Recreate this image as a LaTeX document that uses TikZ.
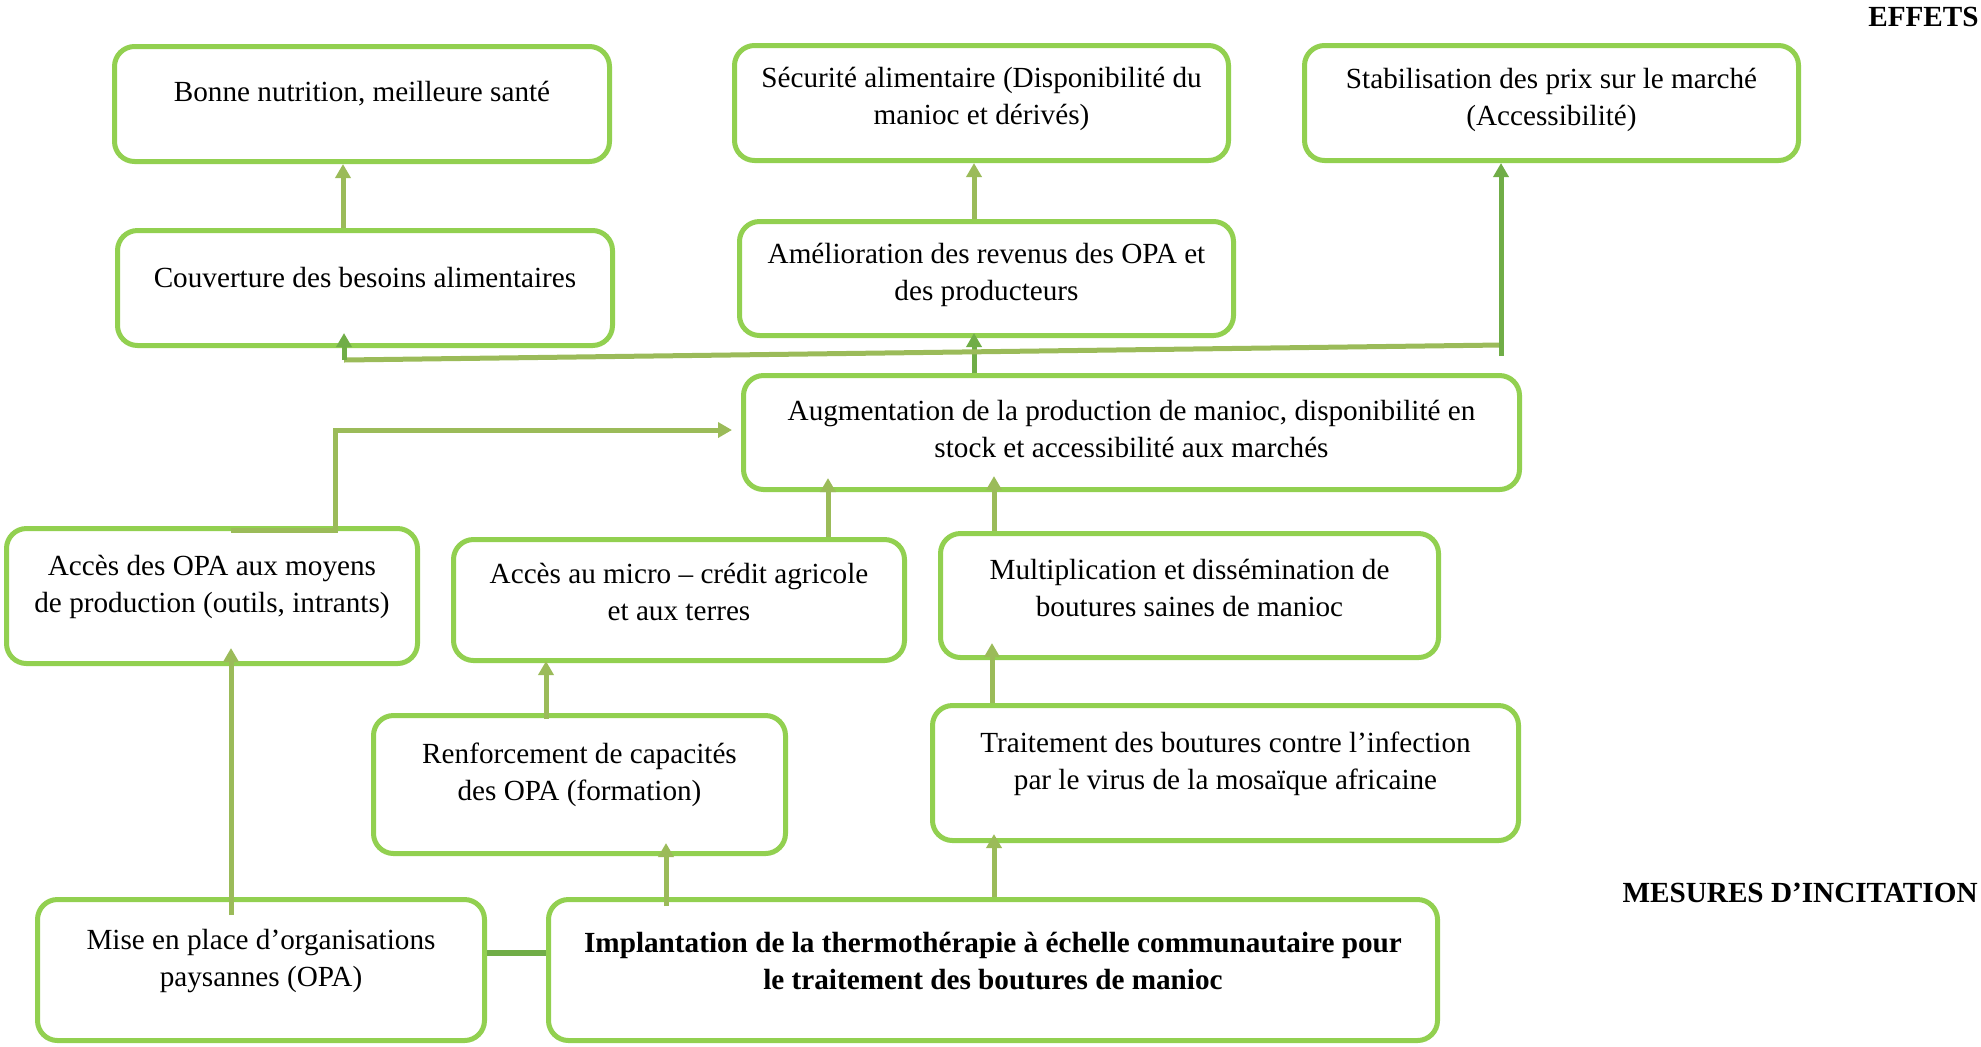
\documentclass[tikz,border=0pt]{standalone}
\usepackage{fontspec}
\setmainfont{Liberation Serif}
\usetikzlibrary{arrows.meta}
\definecolor{boxgreen}{HTML}{92D050}
\definecolor{olivegreen}{HTML}{9BBB59}
\definecolor{deepgreen}{HTML}{70AD47}

\begin{document}
\begin{tikzpicture}[x=0.5pt,y=-0.5pt,
  box/.style={draw=boxgreen, line width=2.5pt, rounded corners=10pt, fill=white, inner sep=0pt},
  lbl/.style={align=center, font=\fontsize{14.6pt}{18.5pt}\selectfont, inner sep=0pt},
  head/.style={font=\fontsize{14.6pt}{18.5pt}\selectfont\bfseries, inner sep=0pt},
  link/.style={draw=olivegreen, line width=2.5pt},
  arr/.style={link, -{Triangle[width=7.5pt,length=7pt]}},
]
\useasboundingbox (0,0) rectangle (1981,1046);

% ---------- boxes ----------
\node[box, minimum width=247.5pt, minimum height=57.5pt] (bonne)  at (362,104)      {};
\node[box, minimum width=247pt,   minimum height=57.5pt] (secu)   at (981.5,103)    {};
\node[box, minimum width=247pt,   minimum height=57.5pt] (stab)   at (1551.5,103)   {};
\node[box, minimum width=247.5pt, minimum height=57.5pt] (couv)   at (365,288)      {};
\node[box, minimum width=247pt,   minimum height=57pt]   (amel)   at (986.5,278.5)  {};
\node[box, minimum width=388pt,   minimum height=57pt]   (augm)   at (1131.5,432.5) {};
\node[box, minimum width=205.5pt, minimum height=67.5pt] (accopa) at (212,596)      {};
\node[box, minimum width=225.5pt, minimum height=60.5pt] (micro)  at (679,600)      {};
\node[box, minimum width=249pt,   minimum height=62pt]   (mult)   at (1189.5,595.5) {};
\node[box, minimum width=206pt,   minimum height=69pt]   (renf)   at (579.5,784.5)  {};
\node[box, minimum width=293pt,   minimum height=67.5pt] (trait)  at (1225.5,773)   {};
\node[box, minimum width=223.5pt, minimum height=70.5pt] (mise)   at (261,970)      {};
\node[box, minimum width=444.5pt, minimum height=70.5pt] (impl)   at (993,970)      {};

% ---------- texts ----------
\node[lbl] (tbonne)  at (362,94)      {Bonne nutrition, meilleure santé};
\node[lbl] (tsecu)   at (981.5,98.5)  {Sécurité alimentaire (Disponibilité du\\manioc et dérivés)};
\node[lbl] (tstab)   at (1551.5,100)  {Stabilisation des prix sur le marché\\(Accessibilité)};
\node[lbl] (tcouv)   at (365,277)     {Couverture des besoins alimentaires};
\node[lbl] (tamel)   at (986.5,275)   {Amélioration des revenus des OPA et\\des producteurs};
\node[lbl] (taugm)   at (1131.5,428.5){Augmentation de la production de manioc, disponibilité en\\stock et accessibilité aux marchés};
\node[lbl] (taccopa) at (212,586.5)   {Accès des OPA aux moyens\\de production (outils, intrants)};
\node[lbl] (tmicro)  at (679,592)     {Accès au micro – crédit agricole\\et aux terres};
\node[lbl] (tmult)   at (1189.5,587.5){Multiplication et dissémination de\\boutures saines de manioc};
\node[lbl] (trenf)   at (579.5,775)   {Renforcement de capacités\\des OPA (formation)};
\node[lbl] (ttrait)  at (1225.5,764)  {Traitement des boutures contre l’infection\\par le virus de la mosaïque africaine};
\node[lbl] (tmise)   at (261,961.5)   {Mise en place d’organisations\\paysannes (OPA)};
\node[lbl, font=\fontsize{14.6pt}{18.5pt}\selectfont\bfseries] (timpl) at (993,961.5)
  {Implantation de la thermothérapie à échelle communautaire pour\\le traitement des boutures de manioc};

\node[head, anchor=east] (effets)  at (1979,17)  {EFFETS};
\node[head, anchor=east] (mesures) at (1978,893) {MESURES D’INCITATION};

% ---------- connectors ----------
\coordinate (xa) at (343,0);
\coordinate (xb) at (974,0);
\draw[arr] (xa |- couv.north) -- (xa |- bonne.south);
\draw[arr] (xb |- amel.north) -- (xb |- secu.south);
\draw[arr, draw=deepgreen, shorten >=-2.5pt] (xb |- augm.north) -- (xb |- amel.south);

% slanted distribution line
\coordinate (jr) at (1501,345);
\coordinate (jl) at (344,360);
\coordinate (sb) at (1501,356);
\draw[link] (jr) -- (jl);
\draw[arr, draw=deepgreen, shorten >=-7.5pt] (jl) -- (jl |- couv.south);
\draw[arr, draw=deepgreen] (sb) -- (sb |- stab.south);

% access to means of production -> production
\coordinate (k1) at (231,530);
\coordinate (k2) at (335,530);
\coordinate (k3) at (335,430);
\draw[arr, shorten >=4.5pt] (k1) -- (k2) -- (k3) -- (k3 -| augm.west);

% lower layers
\coordinate (xm) at (231,0);
\coordinate (xr) at (666,0);
\coordinate (xc) at (546,0);
\coordinate (xd) at (828,0);
\coordinate (xe) at (994,0);
\coordinate (xf) at (992,0);
\coordinate (ym) at (0,953);
\draw[arr, shorten <=-9pt, shorten >=-9pt] (xm |- mise.north) -- (xm |- accopa.south);
\draw[link, draw=deepgreen, line width=3pt] (mise.east |- ym) -- (impl.west |- ym);
\draw[arr, shorten <=-4.5pt, shorten >=-6.5pt] (xr |- impl.north) -- (xr |- renf.south);
\draw[arr, shorten <=-3pt, shorten >=-1pt] (xc |- renf.north) -- (xc |- micro.south);
\draw[arr, shorten >=-7pt] (xd |- micro.north) -- (xd |- augm.south);
\draw[arr, shorten >=-8pt] (xe |- mult.north) -- (xe |- augm.south);
\draw[arr, shorten >=-8.5pt] (xf |- trait.north) -- (xf |- mult.south);
\draw[arr, shorten >=-4.5pt] (xe |- impl.north) -- (xe |- trait.south);
\end{tikzpicture}
\end{document}
